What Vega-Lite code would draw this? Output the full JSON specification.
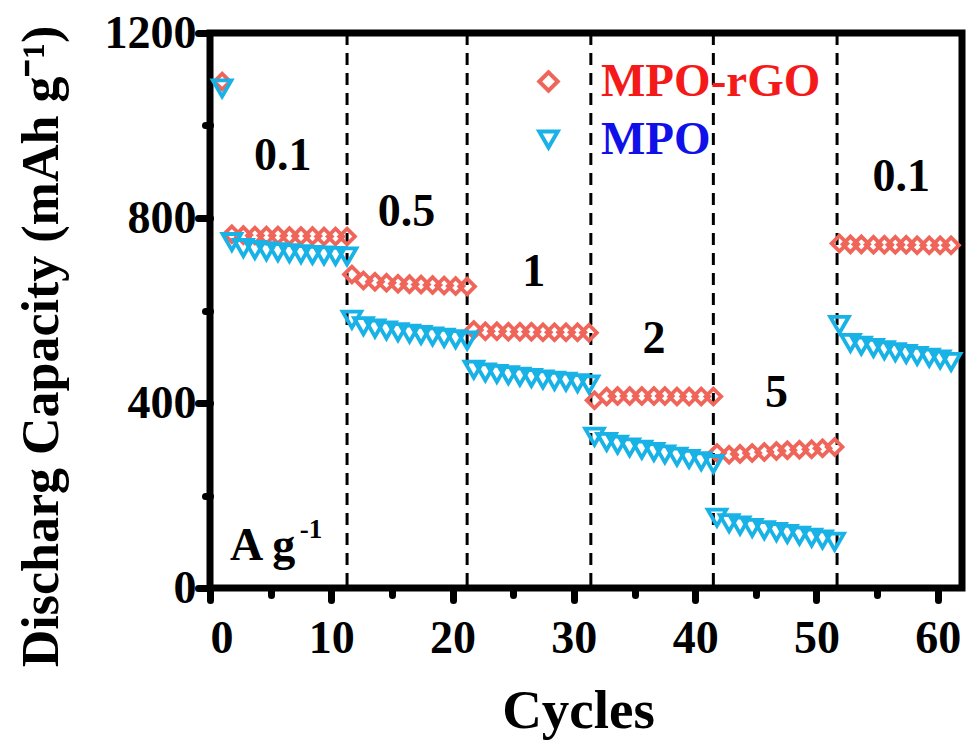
{
"$schema": "https://vega.github.io/schema/vega-lite/v6.json",
"width": 752, "height": 555,
"autosize": {"type": "none"},
"padding": {"left": 210, "top": 33, "right": 5, "bottom": 154},
"background": "white",
"config": {"view": {"stroke": "black", "strokeWidth": 7}, "font": "Liberation Serif"},
"datasets": {
"rates": [{"cycle": 11.3}, {"cycle": 21.2}, {"cycle": 31.4}, {"cycle": 41.5}, {"cycle": 51.7}],
"labels": [
{"text": "0.1", "cycle": 6.0, "capacity": 934},
{"text": "0.5", "cycle": 16.2, "capacity": 813},
{"text": "1", "cycle": 26.7, "capacity": 683},
{"text": "2", "cycle": 36.6, "capacity": 538},
{"text": "5", "cycle": 46.7, "capacity": 422},
{"text": "0.1", "cycle": 57.0, "capacity": 889}
],
"unit": [{"text": "A g", "cycle": 1.65, "capacity": 60}],
"unitsup": [{"text": "-1", "cycle": 7.4, "capacity": 108}],
"points": [
{"series":"MPO-rGO","cycle":1,"capacity":1095},
{"series":"MPO-rGO","cycle":1.8,"capacity":765},
{"series":"MPO-rGO","cycle":2.75,"capacity":763},
{"series":"MPO-rGO","cycle":3.7,"capacity":762},
{"series":"MPO-rGO","cycle":4.65,"capacity":762},
{"series":"MPO-rGO","cycle":5.6,"capacity":762},
{"series":"MPO-rGO","cycle":6.55,"capacity":761},
{"series":"MPO-rGO","cycle":7.5,"capacity":761},
{"series":"MPO-rGO","cycle":8.45,"capacity":761},
{"series":"MPO-rGO","cycle":9.4,"capacity":760},
{"series":"MPO-rGO","cycle":10.35,"capacity":760},
{"series":"MPO-rGO","cycle":11.3,"capacity":760},
{"series":"MPO-rGO","cycle":11.7,"capacity":678},
{"series":"MPO-rGO","cycle":12.65,"capacity":665},
{"series":"MPO-rGO","cycle":13.6,"capacity":662},
{"series":"MPO-rGO","cycle":14.55,"capacity":660},
{"series":"MPO-rGO","cycle":15.5,"capacity":658},
{"series":"MPO-rGO","cycle":16.45,"capacity":657},
{"series":"MPO-rGO","cycle":17.4,"capacity":656},
{"series":"MPO-rGO","cycle":18.35,"capacity":655},
{"series":"MPO-rGO","cycle":19.3,"capacity":654},
{"series":"MPO-rGO","cycle":20.25,"capacity":653},
{"series":"MPO-rGO","cycle":21.2,"capacity":652},
{"series":"MPO-rGO","cycle":21.75,"capacity":558},
{"series":"MPO-rGO","cycle":22.7,"capacity":555},
{"series":"MPO-rGO","cycle":23.65,"capacity":555},
{"series":"MPO-rGO","cycle":24.6,"capacity":554},
{"series":"MPO-rGO","cycle":25.55,"capacity":554},
{"series":"MPO-rGO","cycle":26.5,"capacity":554},
{"series":"MPO-rGO","cycle":27.45,"capacity":553},
{"series":"MPO-rGO","cycle":28.4,"capacity":553},
{"series":"MPO-rGO","cycle":29.35,"capacity":553},
{"series":"MPO-rGO","cycle":30.3,"capacity":553},
{"series":"MPO-rGO","cycle":31.25,"capacity":552},
{"series":"MPO-rGO","cycle":31.7,"capacity":406},
{"series":"MPO-rGO","cycle":32.7,"capacity":414},
{"series":"MPO-rGO","cycle":33.6,"capacity":415},
{"series":"MPO-rGO","cycle":34.6,"capacity":415},
{"series":"MPO-rGO","cycle":35.6,"capacity":415},
{"series":"MPO-rGO","cycle":36.6,"capacity":415},
{"series":"MPO-rGO","cycle":37.5,"capacity":415},
{"series":"MPO-rGO","cycle":38.5,"capacity":414},
{"series":"MPO-rGO","cycle":39.5,"capacity":414},
{"series":"MPO-rGO","cycle":40.5,"capacity":414},
{"series":"MPO-rGO","cycle":41.5,"capacity":414},
{"series":"MPO-rGO","cycle":41.8,"capacity":292},
{"series":"MPO-rGO","cycle":42.8,"capacity":288},
{"series":"MPO-rGO","cycle":43.7,"capacity":290},
{"series":"MPO-rGO","cycle":44.7,"capacity":292},
{"series":"MPO-rGO","cycle":45.7,"capacity":294},
{"series":"MPO-rGO","cycle":46.7,"capacity":296},
{"series":"MPO-rGO","cycle":47.6,"capacity":298},
{"series":"MPO-rGO","cycle":48.6,"capacity":299},
{"series":"MPO-rGO","cycle":49.6,"capacity":300},
{"series":"MPO-rGO","cycle":50.5,"capacity":302},
{"series":"MPO-rGO","cycle":51.5,"capacity":305},
{"series":"MPO-rGO","cycle":51.9,"capacity":745},
{"series":"MPO-rGO","cycle":52.8,"capacity":743},
{"series":"MPO-rGO","cycle":53.7,"capacity":743},
{"series":"MPO-rGO","cycle":54.7,"capacity":742},
{"series":"MPO-rGO","cycle":55.6,"capacity":742},
{"series":"MPO-rGO","cycle":56.5,"capacity":742},
{"series":"MPO-rGO","cycle":57.4,"capacity":742},
{"series":"MPO-rGO","cycle":58.3,"capacity":741},
{"series":"MPO-rGO","cycle":59.3,"capacity":741},
{"series":"MPO-rGO","cycle":60.2,"capacity":741},
{"series":"MPO-rGO","cycle":61.1,"capacity":741},
{"series":"MPO","cycle":1,"capacity":1080},
{"series":"MPO","cycle":1.8,"capacity":748},
{"series":"MPO","cycle":2.75,"capacity":735},
{"series":"MPO","cycle":3.7,"capacity":731},
{"series":"MPO","cycle":4.65,"capacity":728},
{"series":"MPO","cycle":5.6,"capacity":726},
{"series":"MPO","cycle":6.55,"capacity":724},
{"series":"MPO","cycle":7.5,"capacity":722},
{"series":"MPO","cycle":8.45,"capacity":720},
{"series":"MPO","cycle":9.4,"capacity":719},
{"series":"MPO","cycle":10.35,"capacity":718},
{"series":"MPO","cycle":11.3,"capacity":717},
{"series":"MPO","cycle":11.7,"capacity":580},
{"series":"MPO","cycle":12.65,"capacity":566},
{"series":"MPO","cycle":13.6,"capacity":561},
{"series":"MPO","cycle":14.55,"capacity":557},
{"series":"MPO","cycle":15.5,"capacity":553},
{"series":"MPO","cycle":16.45,"capacity":550},
{"series":"MPO","cycle":17.4,"capacity":547},
{"series":"MPO","cycle":18.35,"capacity":544},
{"series":"MPO","cycle":19.3,"capacity":541},
{"series":"MPO","cycle":20.25,"capacity":538},
{"series":"MPO","cycle":21.2,"capacity":535},
{"series":"MPO","cycle":21.75,"capacity":472},
{"series":"MPO","cycle":22.7,"capacity":466},
{"series":"MPO","cycle":23.65,"capacity":463},
{"series":"MPO","cycle":24.6,"capacity":460},
{"series":"MPO","cycle":25.55,"capacity":457},
{"series":"MPO","cycle":26.5,"capacity":454},
{"series":"MPO","cycle":27.45,"capacity":451},
{"series":"MPO","cycle":28.4,"capacity":448},
{"series":"MPO","cycle":29.35,"capacity":446},
{"series":"MPO","cycle":30.3,"capacity":443},
{"series":"MPO","cycle":31.25,"capacity":440},
{"series":"MPO","cycle":31.7,"capacity":327},
{"series":"MPO","cycle":32.7,"capacity":316},
{"series":"MPO","cycle":33.6,"capacity":310},
{"series":"MPO","cycle":34.6,"capacity":304},
{"series":"MPO","cycle":35.6,"capacity":299},
{"series":"MPO","cycle":36.6,"capacity":294},
{"series":"MPO","cycle":37.5,"capacity":289},
{"series":"MPO","cycle":38.5,"capacity":284},
{"series":"MPO","cycle":39.5,"capacity":279},
{"series":"MPO","cycle":40.5,"capacity":274},
{"series":"MPO","cycle":41.5,"capacity":268},
{"series":"MPO","cycle":41.8,"capacity":152},
{"series":"MPO","cycle":42.8,"capacity":140},
{"series":"MPO","cycle":43.7,"capacity":135},
{"series":"MPO","cycle":44.7,"capacity":130},
{"series":"MPO","cycle":45.7,"capacity":125},
{"series":"MPO","cycle":46.7,"capacity":121},
{"series":"MPO","cycle":47.6,"capacity":117},
{"series":"MPO","cycle":48.6,"capacity":113},
{"series":"MPO","cycle":49.6,"capacity":109},
{"series":"MPO","cycle":50.5,"capacity":105},
{"series":"MPO","cycle":51.5,"capacity":100},
{"series":"MPO","cycle":51.9,"capacity":569},
{"series":"MPO","cycle":52.8,"capacity":530},
{"series":"MPO","cycle":53.7,"capacity":524},
{"series":"MPO","cycle":54.7,"capacity":519},
{"series":"MPO","cycle":55.6,"capacity":514},
{"series":"MPO","cycle":56.5,"capacity":510},
{"series":"MPO","cycle":57.4,"capacity":506},
{"series":"MPO","cycle":58.3,"capacity":502},
{"series":"MPO","cycle":59.3,"capacity":498},
{"series":"MPO","cycle":60.2,"capacity":494},
{"series":"MPO","cycle":61.1,"capacity":489}
]
},
"layer": [
{
"data": {"name": "rates"},
"mark": {"type": "rule", "color": "black", "strokeWidth": 3, "strokeDash": [12, 8]},
"encoding": {
"x": {"field": "cycle", "type": "quantitative", "scale": {"domain": [0, 62], "nice": false, "zero": false}}
}
},
{
"data": {"name": "points"},
"mark": {"type": "point", "filled": false, "strokeWidth": 3.8, "opacity": 1},
"encoding": {
"x": {"field": "cycle", "type": "quantitative", "scale": {"domain": [0, 62], "nice": false, "zero": false},
"axis": {"title": "Cycles", "values": [0,5,10,15,20,25,30,35,40,45,50,55,60], "grid": false, "domain": false,
"labelExpr": "datum.value % 10 === 0 ? datum.label : ''", "labelOverlap": false,
"labelFont": "Liberation Serif", "labelFontWeight": "bold", "labelFontSize": 46, "labelColor": "black", "labelPadding": 16,
"tickColor": "black", "tickWidth": 7, "tickCap": "round",
"tickSize": {"condition": {"test": "datum.value % 10 === 0", "value": 12}, "value": 7},
"titleFont": "Liberation Serif", "titleFontWeight": "bold", "titleFontSize": 55, "titleColor": "black",
"titleX": 368, "titleY": 139, "titleBaseline": "alphabetic"}},
"y": {"field": "capacity", "type": "quantitative", "scale": {"domain": [0, 1200], "nice": false, "zero": false},
"axis": {"title": "Discharg  Capacity (mAh g⁻¹)", "values": [0,200,400,600,800,1000,1200], "grid": false, "domain": false,
"format": "d",
"labelExpr": "datum.value % 400 === 0 ? datum.label : ''", "labelOverlap": false,
"labelFont": "Liberation Serif", "labelFontWeight": "bold", "labelFontSize": 46, "labelColor": "black", "labelPadding": 2,
"tickColor": "black", "tickWidth": 7, "tickCap": "round",
"tickSize": {"condition": {"test": "datum.value % 400 === 0", "value": 12}, "value": 5},
"titleFont": "Liberation Serif", "titleFontWeight": "bold", "titleFontSize": 52, "titleColor": "black",
"titleX": -153, "titleY": 313, "titleBaseline": "alphabetic", "titleAngle": -90}},
"shape": {"field": "series", "type": "nominal", "sort": null,
"scale": {"domain": ["MPO-rGO", "MPO"], "range": ["diamond", "triangle-down"]},
"legend": {"title": null, "orient": "none", "legendX": 315, "legendY": 25, "direction": "vertical",
"symbolSize": 340, "symbolStrokeWidth": 4,
"labelFont": "Liberation Serif", "labelFontSize": 47, "labelFontWeight": "bold",
"labelColor": {"expr": "datum.label === 'MPO' ? '#1010E8' : '#F51A1A'"},
"labelOffset": 29, "rowPadding": 10, "padding": 0, "labelLimit": 400}},
"color": {"field": "series", "type": "nominal", "sort": null,
"scale": {"domain": ["MPO-rGO", "MPO"], "range": ["#F0655A", "#19B2E6"]},
"legend": {"title": null, "orient": "none", "legendX": 315, "legendY": 25, "direction": "vertical",
"symbolSize": 340, "symbolStrokeWidth": 4,
"labelFont": "Liberation Serif", "labelFontSize": 47, "labelFontWeight": "bold",
"labelColor": {"expr": "datum.label === 'MPO' ? '#1010E8' : '#F51A1A'"},
"labelOffset": 29, "rowPadding": 10, "padding": 0, "labelLimit": 400}},
"size": {"condition": {"test": "datum.series === 'MPO'", "value": 345}, "value": 245}
}
},
{
"data": {"name": "labels"},
"mark": {"type": "text", "font": "Liberation Serif", "fontWeight": "bold", "fontSize": 46, "color": "black", "align": "center", "baseline": "middle"},
"encoding": {
"x": {"field": "cycle", "type": "quantitative", "scale": {"domain": [0, 62], "nice": false, "zero": false}},
"y": {"field": "capacity", "type": "quantitative", "scale": {"domain": [0, 1200], "nice": false, "zero": false}},
"text": {"field": "text"}
}
},
{
"data": {"name": "unit"},
"mark": {"type": "text", "font": "Liberation Serif", "fontWeight": "bold", "fontSize": 46, "color": "black", "align": "left", "baseline": "alphabetic"},
"encoding": {
"x": {"field": "cycle", "type": "quantitative", "scale": {"domain": [0, 62], "nice": false, "zero": false}},
"y": {"field": "capacity", "type": "quantitative", "scale": {"domain": [0, 1200], "nice": false, "zero": false}},
"text": {"field": "text"}
}
},
{
"data": {"name": "unitsup"},
"mark": {"type": "text", "font": "Liberation Serif", "fontWeight": "bold", "fontSize": 27, "color": "black", "align": "left", "baseline": "alphabetic"},
"encoding": {
"x": {"field": "cycle", "type": "quantitative", "scale": {"domain": [0, 62], "nice": false, "zero": false}},
"y": {"field": "capacity", "type": "quantitative", "scale": {"domain": [0, 1200], "nice": false, "zero": false}},
"text": {"field": "text"}
}
}
]
}
